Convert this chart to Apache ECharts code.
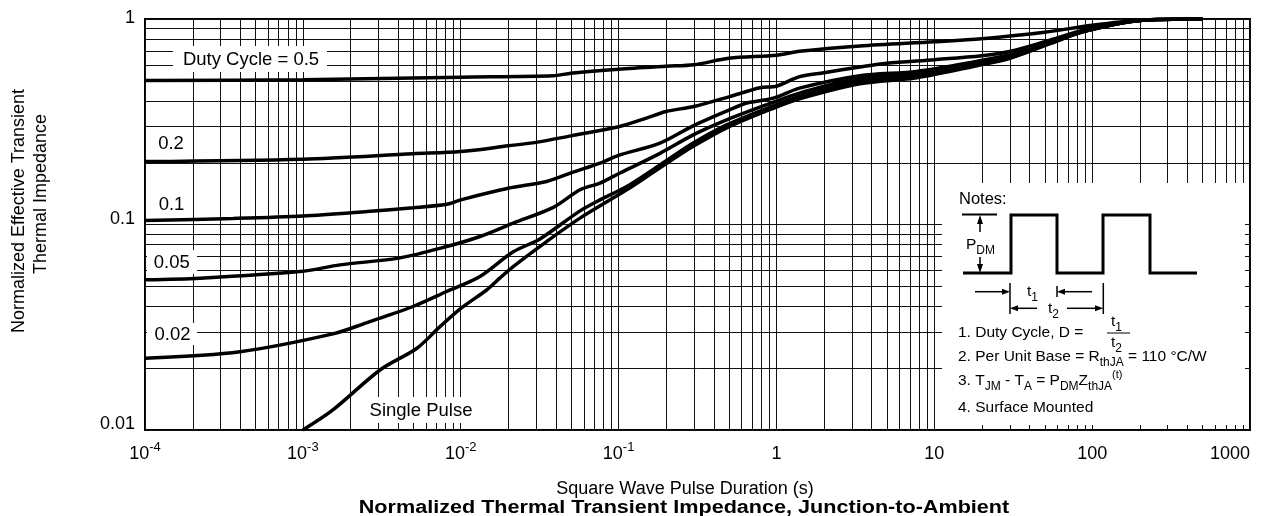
<!DOCTYPE html>
<html><head><meta charset="utf-8">
<script src="https://cdn.jsdelivr.net/npm/echarts@6/dist/echarts.min.js"></script>
<style>html,body{margin:0;padding:0;background:#fff}#c{width:1261px;height:516px}</style>
</head><body><div id="c"></div>
<script>
// ---- data: [pulse duration (s), normalized Zth] ----
const dc05 = [[1e-4,0.502],[1e-3,0.506],[1e-2,0.521],[3.86e-2,0.529],[5e-2,0.545],[0.1,0.57],[0.2,0.589],[0.3,0.599],[0.5,0.644],[1,0.666],[1.4,0.696],[3.38,0.739],[10,0.775],[20,0.802],[50,0.862],[100,0.933],[200,0.987],[500,1]];
const dc02 = [[1e-4,0.2025],[1e-3,0.208],[5e-3,0.221],[1e-2,0.2265],[2e-2,0.2415],[3e-2,0.251],[5e-2,0.270],[0.1,0.299],[0.15,0.3295],[0.2,0.355],[0.3,0.375],[0.5,0.418],[0.787,0.463],[1,0.471],[1.4,0.524],[2,0.548],[3.38,0.584],[5,0.609],[10,0.634],[20,0.663],[30,0.695],[50,0.775],[100,0.907],[200,0.984],[500,1]];
const dc01 = [[1e-4,0.1045],[3.61e-4,0.107],[1e-3,0.110],[2.55e-3,0.1157],[5e-3,0.1206],[8.15e-3,0.1254],[1e-2,0.1318],[2e-2,0.150],[3.5e-2,0.162],[5e-2,0.1784],[7.63e-2,0.199],[0.1,0.217],[0.183,0.249],[0.297,0.302],[0.5,0.360],[0.648,0.390],[0.955,0.412],[1.4,0.461],[3.38,0.530],[7.74,0.556],[18.6,0.622],[30.2,0.670],[54.1,0.764],[87.5,0.870],[201,0.984],[500,1]];
const dc005 = [[1e-4,0.0538],[2.23e-4,0.0548],[9.59e-4,0.059],[1.72e-3,0.0636],[4.13e-3,0.0688],[8.15e-3,0.0781],[1.325e-2,0.0874],[2.15e-2,0.1015],[3.86e-2,0.1212],[5.7e-2,0.1475],[7.63e-2,0.159],[0.102,0.178],[0.183,0.222],[0.297,0.273],[0.484,0.323],[0.955,0.3935],[1.4,0.436],[3.38,0.516],[7.74,0.5415],[18.6,0.613],[30.2,0.663],[54.1,0.764],[87.5,0.870],[201,0.984],[500,1]];
const dc002 = [[1e-4,0.02234],[4e-4,0.02405],[1.55e-3,0.02935],[2.55e-3,0.0333],[3.08e-3,0.035],[4.99e-3,0.0399],[8.15e-3,0.0472],[1.325e-2,0.0558],[2.15e-2,0.0736],[3.18e-2,0.0851],[5.7e-2,0.1165],[7.63e-2,0.1318],[0.1126,0.153],[0.183,0.195],[0.297,0.249],[0.484,0.3056],[0.955,0.378],[1.4,0.420],[3.38,0.5006],[7.74,0.5253],[18.6,0.599],[30.2,0.648],[54.1,0.764],[87.5,0.870],[201,0.984],[500,1]];
const single = [[1e-3,0.01],[1.55e-3,0.01252],[3.08e-3,0.01959],[5.28e-3,0.0250],[7.39e-3,0.03185],[1.02e-2,0.0395],[1.46e-2,0.048],[1.774e-2,0.055],[2.15e-2,0.0624],[3.5e-2,0.0826],[5.7e-2,0.1074],[0.1126,0.1475],[0.183,0.1888],[0.297,0.240],[0.484,0.2955],[0.955,0.3678],[1.4,0.409],[3.38,0.484],[7.74,0.5177],[18.6,0.5924],[30.2,0.644],[54.1,0.758],[87.5,0.867],[201,0.984],[500,1]];
const curves = [dc05, dc02, dc01, dc005, dc002, single];

// ---- ticks / grid ----
const xTickText = [['10','-4'],['10','-3'],['10','-2'],['10','-1'],['1',''],['10',''],['100',''],['1000','']]; // exponents -4..3
const yTickText = ['0.01','0.1','1']; // exponents -2..0
const xDecades = [1e-4,1e-3,1e-2,1e-1,1,10,100];
const yDecades = [0.01,0.1];
const minorSteps = [2,3,4,5,6,7,8,9];

const xMinor = [], yMinor = [];
xDecades.forEach(d => minorSteps.forEach(m => xMinor.push([m*d, 0.5])));
yDecades.forEach(d => minorSteps.forEach(m => yMinor.push([1, m*d])));

const FF = "'Liberation Sans', Arial, Helvetica, sans-serif";

function vGrid(params, api) {
  const cs = params.coordSys;
  const x = Math.round(api.coord([api.value(0), api.value(1)])[0]) + 0.5;
  return {type:'line', shape:{x1:x, y1:cs.y, x2:x, y2:cs.y+cs.height}, style:{stroke:'#111', lineWidth:1}};
}
function hGrid(params, api) {
  const cs = params.coordSys;
  const y = Math.round(api.coord([api.value(0), api.value(1)])[1]) + 0.5;
  return {type:'line', shape:{x1:cs.x, y1:y, x2:cs.x+cs.width, y2:y}, style:{stroke:'#111', lineWidth:1}};
}

const txt = (x, y, text, size, extra, el) => Object.assign({type:'text', x, y, z:12,
  style: Object.assign({text, fontSize:size, fontFamily:FF, fill:'#000', align:'center', verticalAlign:'middle'}, extra || {})}, el || {});
const wrect = (x, y, w, h) => ({type:'rect', z:10, shape:{x, y, width:w, height:h}, style:{fill:'#fff'}});
const pl = (pts, w) => ({type:'polyline', z:12, shape:{points:pts}, style:{stroke:'#000', lineWidth:w, fill:null}});
const tri = (pts) => ({type:'polygon', z:12, shape:{points:pts}, style:{fill:'#000'}});

const subRich = {
  sub: {fontSize:12, fontFamily:FF, verticalAlign:'bottom', padding:[11,0,0,0]},
  sup: {fontSize:11, fontFamily:FF, verticalAlign:'top', padding:[0,0,9,0]}
};
const NF = 15.5;

const chart = echarts.init(document.getElementById('c'), null, {renderer:'canvas'});
chart.setOption({
  animation: false,
  backgroundColor: '#fff',
  grid: {left:145, right:11, top:19, bottom:86, show:true, borderColor:'#000', borderWidth:2, containLabel:false},
  xAxis: {
    type:'log', logBase:10, min:1e-4, max:1000,
    axisLine:{show:false}, axisTick:{show:false},
    splitLine:{show:true, lineStyle:{color:'#111', width:1}},
    axisLabel:{
      margin:11, color:'#000', fontFamily:FF, fontSize:18, alignMaxLabel:'right',
      formatter: v => { const t = xTickText[Math.round(Math.log10(v)) + 4]; return t[1] ? '{b|'+t[0]+'}{s|'+t[1]+'}' : '{b|'+t[0]+'}'; },
      rich:{ b:{fontSize:18, fontFamily:FF, padding:[4,0,0,0]}, s:{fontSize:13, fontFamily:FF, verticalAlign:'top'} }
    }
  },
  yAxis: {
    type:'log', logBase:10, min:0.01, max:1,
    axisLine:{show:false}, axisTick:{show:false},
    splitLine:{show:true, lineStyle:{color:'#111', width:1}},
    axisLabel:{
      margin:10, color:'#000', fontFamily:FF, fontSize:18,
      formatter: v => { const e = Math.round(Math.log10(v)); const s = yTickText[e + 2]; return e === 0 ? '{t|'+s+'}' : '{m|'+s+'}'; },
      rich:{ t:{fontSize:18, fontFamily:FF, padding:[0,0,2,0]}, m:{fontSize:18, fontFamily:FF, padding:[0,0,11,0]} }
    }
  },
  series: [
    {type:'custom', renderItem:vGrid, data:xMinor, encode:{x:0, y:1}, z:1, silent:true},
    {type:'custom', renderItem:hGrid, data:yMinor, encode:{x:0, y:1}, z:1, silent:true}
  ].concat(curves.map(c => ({type:'line', data:c, showSymbol:false, smooth:0.3, silent:true, z:3,
      lineStyle:{color:'#000', width:3.5}}))),
  graphic: [
    // label backgrounds
    wrect(173, 46, 154, 26), wrect(147, 250, 50, 24), wrect(147, 323, 50, 22), wrect(363, 397, 114, 26),
    wrect(942, 183, 303, 242),
    // curve labels
    txt(251, 59.5, 'Duty Cycle = 0.5', 18.5),
    txt(171, 143.5, '0.2', 18.5),
    txt(171.5, 204.5, '0.1', 18.5),
    txt(171.7, 262.5, '0.05', 18.5),
    txt(172.5, 334.5, '0.02', 18.5),
    txt(421, 410.5, 'Single Pulse', 18.5),
    // axis names & title
    txt(685, 489, 'Square Wave Pulse Duration (s)', 18),
    txt(684, 508, 'Normalized Thermal Transient Impedance, Junction-to-Ambient', 18, {fontWeight:'bold'}, {scaleX:1.2}),
    txt(19, 211, 'Normalized Effective Transient', 18, null, {rotation: Math.PI/2}),
    txt(41, 194, 'Thermal Impedance', 18, null, {rotation: Math.PI/2}),
    // notes
    txt(959, 199, 'Notes:', 16.5, {align:'left'}),
    pl([[963,273],[1011,273],[1011,215],[1057,215],[1057,273],[1103,273],[1103,215],[1150,215],[1150,273],[1197,273]], 3),
    pl([[962,214.5],[997,214.5]], 2),
    pl([[980,224],[980,232]], 1.5), tri([[980,215],[977,224],[983,224]]),
    pl([[980,257],[980,265]], 1.5), tri([[980,273],[977,264],[983,264]]),
    txt(966, 245, 'P{sub|DM}', NF, {align:'left', rich:subRich}),
    // t1 row
    pl([[975,291.7],[1003,291.7]], 1.5), tri([[1010,291.7],[1002,288.7],[1002,294.7]]),
    pl([[1010,283],[1010,314]], 1.5),
    txt(1027, 292, 't{sub|1}', NF, {align:'left', rich:subRich}),
    pl([[1063,291.7],[1092,291.7]], 1.5), tri([[1057,291.7],[1065,288.7],[1065,294.7]]),
    pl([[1057,286],[1057,297]], 1.5),
    pl([[1103.3,283],[1103.3,314]], 1.5),
    // t2 row
    pl([[1017,308.3],[1037,308.3]], 1.5), tri([[1010,308.3],[1018,305.3],[1018,311.3]]),
    txt(1048, 309, 't{sub|2}', NF, {align:'left', rich:subRich}),
    pl([[1067,308.3],[1096,308.3]], 1.5), tri([[1103.3,308.3],[1095,305.3],[1095,311.3]]),
    // note lines
    txt(958, 333, '1. Duty Cycle, D =', NF, {align:'left'}),
    txt(1111, 322, 't{sub|1}', NF, {align:'left', rich:subRich}),
    pl([[1107,333],[1130,333]], 1),
    txt(1111, 343, 't{sub|2}', NF, {align:'left', rich:subRich}),
    txt(958, 357, '2. Per Unit Base = R{sub|thJA} = 110 °C/W', NF, {align:'left', rich:subRich}),
    txt(958, 381, '3. T{sub|JM} - T{sub|A} = P{sub|DM}Z{sub|thJA}{sup|(t)}', NF, {align:'left', rich:subRich}),
    txt(958, 408, '4. Surface Mounted', NF, {align:'left'})
  ]
});
</script></body></html>
